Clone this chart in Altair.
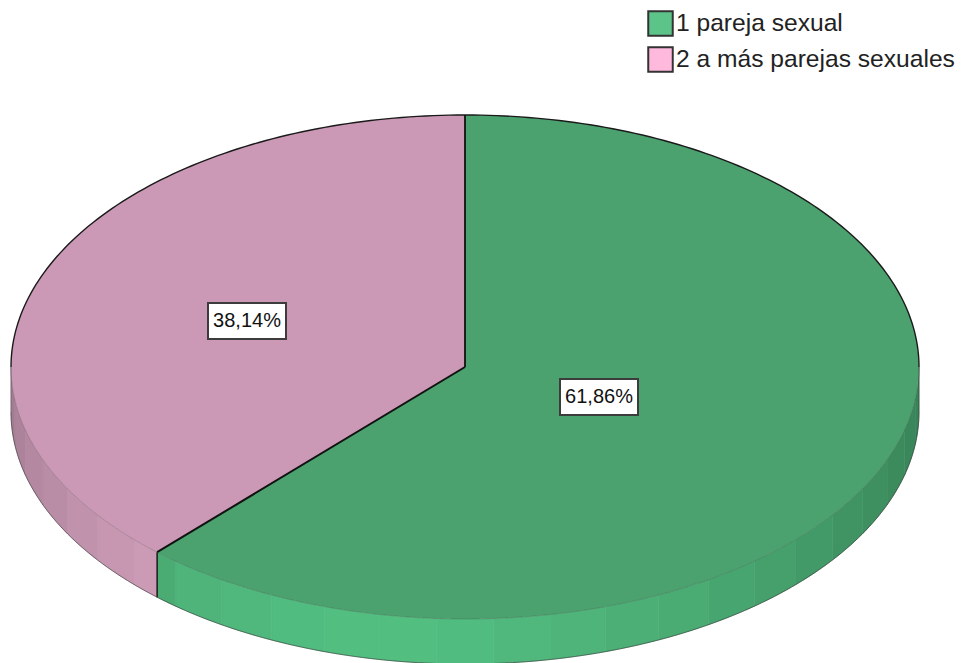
import math
import altair as alt
import pandas as pd

# Chart values
categories = ["1 pareja sexual", "2 a más parejas sexuales"]
shares = [61.86, 38.14]
value_labels = ["61,86%", "38,14%"]
legend_colors = ["#5cc488", "#ffb9dc"]
top_colors = ["#4ba26f", "#cb99b5"]
wall_colors = [(82, 190, 128), (226, 172, 202)]
# brightness of each wall facet, clockwise from the right-hand end of the disc
wall_shades = [0.69, 0.71, 0.73, 0.76, 0.78, 0.81, 0.84, 0.87, 0.90, 0.92, 0.95, 0.97, 0.99,
               1.00, 1.00, 0.99, 0.97, 0.95, 0.90, 0.88, 0.85, 0.82, 0.79, 0.76, 0.72]
facet_degrees = 7.2

CX, CY, RX, RY, DEPTH = 465.0, 367.0, 454.0, 252.0, 45.0
LEFT, TOP, W, H = 8, 8, 949, 655


def px(t):
    return CX + RX * math.sin(math.radians(t))


def py(t):
    return CY - RY * math.cos(math.radians(t))


split = 360 * shares[0] / 100
sx = alt.Scale(domain=[LEFT, LEFT + W], nice=False, zero=False)
sy = alt.Scale(domain=[TOP + H, TOP], nice=False, zero=False)
X = alt.X("x:Q", scale=sx, axis=None)
Y = alt.Y("y:Q", scale=sy, axis=None)
Y2 = alt.Y2("y2:Q")

# side wall facets
rows = []
for k, shade in enumerate(wall_shades):
    a = 90 + k * facet_degrees
    b = a + facet_degrees
    if a < split < b:
        parts = [(a, split), (split, b)]
    else:
        parts = [(a, b)]
    for j, (p, q) in enumerate(parts):
        base = wall_colors[0] if (p + q) / 2 < split else wall_colors[1]
        col = "#%02x%02x%02x" % tuple(min(255, round(c * shade)) for c in base)
        for i in range(9):
            t = p + (q - p) * i / 8
            rows.append(dict(f=f"{k}-{j}", x=px(t), y=py(t), y2=py(t) + DEPTH, c=col))
walls = (
    alt.Chart(pd.DataFrame(rows))
    .mark_area(strokeWidth=0.6)
    .encode(x=X, y=Y, y2=Y2, detail="f:N",
            fill=alt.Fill("c:N", scale=None), stroke=alt.Stroke("c:N", scale=None))
)


# top face of the disc, one area per slice
def lower_y(x):
    u = max(-1, min(1, (x - CX) / RX))
    return CY + RY * math.sqrt(1 - u * u)


def upper_y(x):
    return 2 * CY - lower_y(x)


ex, ey = px(split), py(split)
rows = []
N = 300
for i in range(N + 1):  # green, under the radius
    x = ex + (CX - ex) * i / N
    rows.append(dict(f="g", x=x, y=ey + (CY - ey) * i / N, y2=lower_y(x), c=top_colors[0]))
for i in range(N + 1):
    x = CX + 0.001 + (RX - 0.001) * i / N
    rows.append(dict(f="g", x=x, y=upper_y(x), y2=lower_y(x), c=top_colors[0]))
for i in range(N + 1):  # pink
    x = CX - RX + (ex - (CX - RX)) * i / N
    rows.append(dict(f="p", x=x, y=upper_y(x), y2=lower_y(x), c=top_colors[1]))
for i in range(1, N + 1):
    x = ex + (CX - ex) * i / N
    rows.append(dict(f="p", x=x, y=upper_y(x), y2=ey + (CY - ey) * i / N, c=top_colors[1]))
tops = (
    alt.Chart(pd.DataFrame(rows))
    .mark_area()
    .encode(x=X, y=Y, y2=Y2, detail="f:N", fill=alt.Fill("c:N", scale=None))
)

# outlines
rows = []


def add_line(name, pts, col, w):
    for i, (x, y) in enumerate(pts):
        rows.append(dict(f=name, i=i, x=x, y=y, c=col, w=w))


add_line("upper", [(px(t), py(t)) for t in range(-90, 91)], "#1a1a1a", 1.4)
add_line("r1", [(CX, py(0)), (CX, CY)], "#111111", 1.8)
add_line("r2", [(CX, CY), (ex, ey)], "#111111", 2.0)
add_line("w", [(ex, ey), (ex, ey + DEPTH)], "#222222", 1.6)
add_line("front", [(px(t), py(t)) for t in range(90, 271)], "#33333355", 0.7)
add_line("bottom", [(px(t), py(t) + DEPTH) for t in range(90, 271)], "#33333399", 1.0)
add_line("el", [(px(270), py(270)), (px(270), py(270) + DEPTH)], "#55555588", 1.0)
add_line("er", [(px(90), py(90)), (px(90), py(90) + DEPTH)], "#33333388", 1.0)
lines = (
    alt.Chart(pd.DataFrame(rows))
    .mark_line()
    .encode(x=X, y=Y, order="i:Q", detail="f:N",
            stroke=alt.Stroke("c:N", scale=None),
            strokeWidth=alt.StrokeWidth("w:Q", scale=None))
)

# value boxes
box_df = pd.DataFrame({
    "label": value_labels,
    "x": [599.0, 247.0],
    "y": [397.0, 321.0],
})
box_df["x0"] = box_df["x"] - 39
box_df["x1"] = box_df["x"] + 39
box_df["y0"] = box_df["y"] - 18
box_df["y1"] = box_df["y"] + 18
boxes = (
    alt.Chart(box_df)
    .mark_rect(fill="white", stroke="#3c3c3c", strokeWidth=2)
    .encode(x=alt.X("x0:Q", scale=sx, axis=None), x2="x1:Q",
            y=alt.Y("y0:Q", scale=sy, axis=None), y2="y1:Q")
)
texts = (
    alt.Chart(box_df)
    .mark_text(font="Liberation Sans", fontSize=20, color="#111111")
    .encode(x=X, y=Y, text="label:N")
)

# legend carrier
legend_df = pd.DataFrame({"cat": categories, "x": [CX, CX], "y": [CY, CY]})
legend_layer = (
    alt.Chart(legend_df)
    .mark_point(filled=True, opacity=0, size=1)
    .encode(
        x=X, y=Y,
        color=alt.Color(
            "cat:N",
            scale=alt.Scale(domain=categories, range=legend_colors),
            legend=alt.Legend(
                title=None, orient="none", legendX=639, legendY=2,
                symbolType="square", symbolSize=600, symbolOpacity=1,
                symbolStrokeColor="#333333", symbolStrokeWidth=2,
                labelFont="Liberation Sans", labelFontSize=24.6, labelColor="#222222",
                labelOffset=2, rowPadding=3, labelLimit=400,
            ),
        ),
    )
)

chart = (
    alt.layer(walls, tops, lines, boxes, texts, legend_layer)
    .properties(width=W, height=H, padding=0, autosize=alt.AutoSizeParams(type="none"),
                background="white")
    .configure_view(stroke=None)
)
chart.save("out.html", embed_options={"renderer": "svg", "actions": False})
